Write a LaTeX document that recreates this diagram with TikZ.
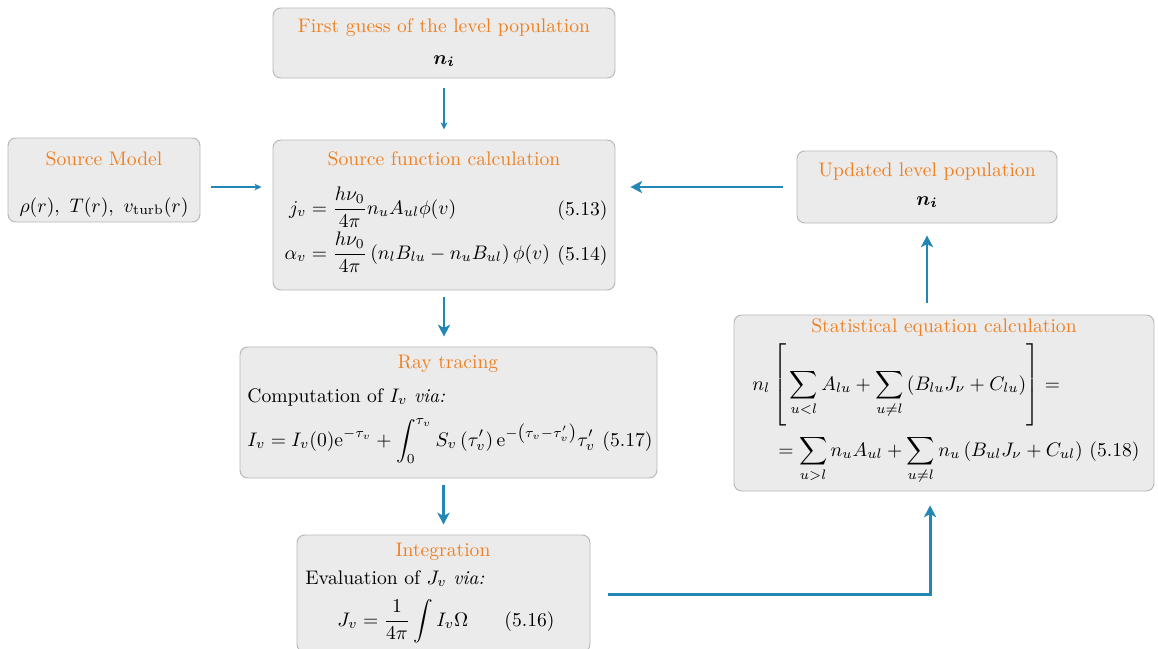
\documentclass[tikz,border=0pt]{standalone}
\usepackage{amsmath,amssymb,mathtools,bm}
\usetikzlibrary{fit,arrows.meta,calc}
\definecolor{boxfill}{HTML}{EBEBEB}
\definecolor{boxline}{HTML}{B8B8B8}
\definecolor{ttlcol}{HTML}{EF8020}
\definecolor{arrcol}{HTML}{2287B4}
\begin{document}
\begin{tikzpicture}[x=0.51pt,y=-0.51pt,
  box/.style={draw=boxline, fill=boxfill, rounded corners=4pt, line width=0.5pt, inner sep=0pt},
  ttl/.style={text=ttlcol, inner sep=0pt, anchor=base},
  txt/.style={inner sep=0pt, anchor=base west},
  tag/.style={inner sep=0pt, anchor=base east},
  thinarr/.style={draw=arrcol, line width=0.65pt, -{Stealth[length=3.6pt,width=3.4pt,inset=1pt]}},
  thickarr/.style={draw=arrcol, line width=1.5pt, -{Stealth[length=6pt,width=6.2pt,inset=1.6pt]}}]
\useasboundingbox (0,0) rectangle (1158,649);
% boxes
\node[box, fit={(273,8) (615,78)}] (fg) {};
\node[box, fit={(8,138) (200,222)}] (sm) {};
\node[box, fit={(273,140) (615,290)}] (sf) {};
\node[box, fit={(797,151) (1057,223)}] (up) {};
\node[box, fit={(734,315) (1154,491)}] (st) {};
\node[box, fit={(240,347) (657,478)}] (rt) {};
\node[box, fit={(297,535) (590,652)}] (in) {};
% first guess
\node[ttl] (fgt) at (444,32) {First guess of the level population};
\node[inner sep=0pt, anchor=base] (fgn) at (444,64) {$\bm{n_i}$};
% source model
\node[ttl] (smt) at (104,165) {Source Model};
\node[inner sep=0pt, anchor=base] (smc) at (104,212) {$\rho(r),\ T(r),\ v_{\text{turb}}(r)$};
% source function
\node[ttl] (sft) at (444,165) {Source function calculation};
\node[txt] (sfa) at (306,214) {$\displaystyle \mathllap{j_v} = \frac{h\nu_0}{4\pi} n_u A_{ul}\phi(v)$};
\node[txt] (sfb) at (306,259) {$\displaystyle \mathllap{\alpha_v} = \frac{h\nu_0}{4\pi}\left(n_l B_{lu}-n_u B_{ul}\right)\phi(v)$};
\node[tag] (sfat) at (608,215) {(5.13)};
\node[tag] (sfbt) at (608,260) {(5.14)};
% updated
\node[ttl] (upt) at (927,176) {Updated level population};
\node[inner sep=0pt, anchor=base] (upn) at (927,205) {$\bm{n_i}$};
% statistical
\node[ttl] (stt) at (944,332) {Statistical equation calculation};
\node[txt] (sta) at (752,390) {$\displaystyle n_l\left[\rule[-20pt]{0pt}{45pt}\sum_{u<l}A_{lu}+\sum_{u\neq l}\left(B_{lu}J_\nu+C_{lu}\right)\right]=$};
\node[txt] (stb) at (778,456) {$\displaystyle =\sum_{u>l}n_uA_{ul}+\sum_{u\neq l}n_u\left(B_{ul}J_\nu+C_{ul}\right)$};
\node[tag] (stbt) at (1140,456) {(5.18)};
% ray tracing
\node[ttl] (rtt) at (448,368) {Ray tracing};
\node[txt] (rta) at (247,402) {Computation of $I_v$~\textit{via:}};
\node[txt] (rtb) at (247,446) {$\displaystyle I_v=I_v(0)\mathrm{e}^{-\tau_v}+\int_0^{\tau_v}S_v\left(\tau_v'\right)\mathrm{e}^{-\left(\tau_v-\tau_v'\right)}\tau_v'$};
\node[tag] (rtbt) at (653,446) {(5.17)};
% integration
\node[ttl] (int) at (443,556) {Integration};
\node[txt] (ina) at (305,584) {Evaluation of $J_v$~\textit{via:}};
\node[txt] (inb) at (337,626) {$\displaystyle J_v=\frac{1}{4\pi}\int I_v\Omega$};
\node[tag] (inbt) at (555,626) {(5.16)};
% connectors
\draw[thinarr, shorten <=5.1pt, shorten >=5.1pt] (fg.south) -- (sf.north);
\draw[thinarr, shorten <=5.6pt, shorten >=5.6pt] ([yshift=-3.6pt]sm.east) -- ([yshift=-3.6pt]sm.east -| sf.west);
\draw[thickarr, shorten <=7.1pt, shorten >=7.6pt] (up.west) -- (up.west -| sf.east);
\draw[thickarr, shorten <=3.1pt, shorten >=5.1pt] (sf.south) -- (sf.south |- rt.north);
\draw[thickarr, shorten <=3.1pt, shorten >=5.1pt] (in.north |- rt.south) -- (in.north);
\draw[thickarr, shorten <=8.7pt, shorten >=7.1pt] ([yshift=-0.5pt]in.east) -| ([xshift=-7.1pt]st.south);
\draw[thickarr, shorten <=6.1pt, shorten >=6.1pt] (st.north -| up.south) -- (up.south);
\end{tikzpicture}
\end{document}
